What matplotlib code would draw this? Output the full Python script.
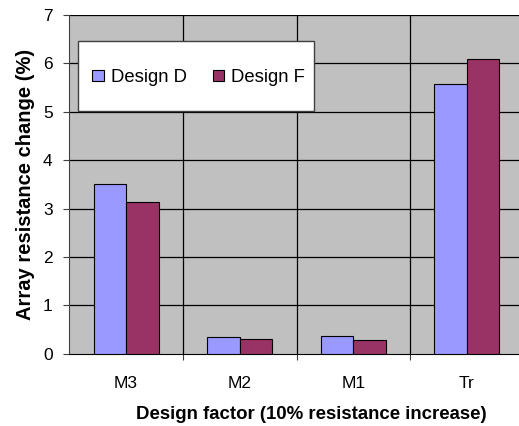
import numpy as np
import matplotlib.pyplot as plt
from matplotlib.patches import Rectangle

plt.rcParams['font.family'] = ['Liberation Sans', 'DejaVu Sans']

categories = ["M3", "M2", "M1", "Tr"]
design_d = [3.51, 0.35, 0.37, 5.58]
design_f = [3.13, 0.30, 0.28, 6.09]

fig = plt.figure(figsize=(5.19, 4.26), dpi=100)
ax = fig.add_axes([69.3/519, 72.3/426, 454.4/519, 338.7/426])
ax.set_facecolor("#C0C0C0")

x = np.arange(len(categories))
w = 0.286
ax.bar(x - w/2, design_d, w, color="#9999FF", edgecolor="black", linewidth=0.8,
       label="Design D", zorder=3)
ax.bar(x + w/2, design_f, w, color="#993366", edgecolor="black", linewidth=0.8,
       label="Design F", zorder=3)

ax.set_xlim(-0.5, 3.5)
ax.set_ylim(0, 7)
ax.set_yticks(range(0, 8))
ax.set_xticks(x)
ax.set_xticklabels(categories)
ax.set_xticks(np.arange(0.5, 3.5, 1), minor=True)
ax.tick_params(axis="x", which="major", length=0, pad=16, labelsize=12.5)
ax.tick_params(axis="x", which="minor", length=4, width=0.8, color="#404040")
ax.tick_params(axis="y", length=4, width=0.8, labelsize=12.5, pad=8, color="#404040")

# gridlines
for yv in range(1, 8):
    ax.axhline(yv, color="black", linewidth=0.9, zorder=1)
for xv in np.arange(0.5, 3.5, 1):
    ax.axvline(xv, color="black", linewidth=0.9, zorder=1)

for s in ["top", "right"]:
    ax.spines[s].set_visible(False)
ax.spines["left"].set_color("#404040")
ax.spines["bottom"].set_color("black")

ax.set_ylabel("Array resistance change (%)", fontsize=14.5, fontweight="bold", labelpad=6)
ax.set_xlabel("Design factor (10% resistance increase)", fontsize=13.4, fontweight="bold",
              labelpad=11)
ax.xaxis.label.set_x(0.532)

# legend box
box = Rectangle((0.0198, 0.717), 0.5187, 0.205, transform=ax.transAxes,
                facecolor="white", edgecolor="#404040", linewidth=1.0, zorder=4)
ax.add_patch(box)
leg = ax.legend(loc="center left", bbox_to_anchor=(0.0506, 0.8155), ncol=2,
                fontsize=13.3, frameon=False, borderpad=0, borderaxespad=0,
                handlelength=0.62, handleheight=0.62, handletextpad=0.37,
                columnspacing=1.43)
leg.set_zorder(5)

fig.savefig("out.png", dpi=100)
